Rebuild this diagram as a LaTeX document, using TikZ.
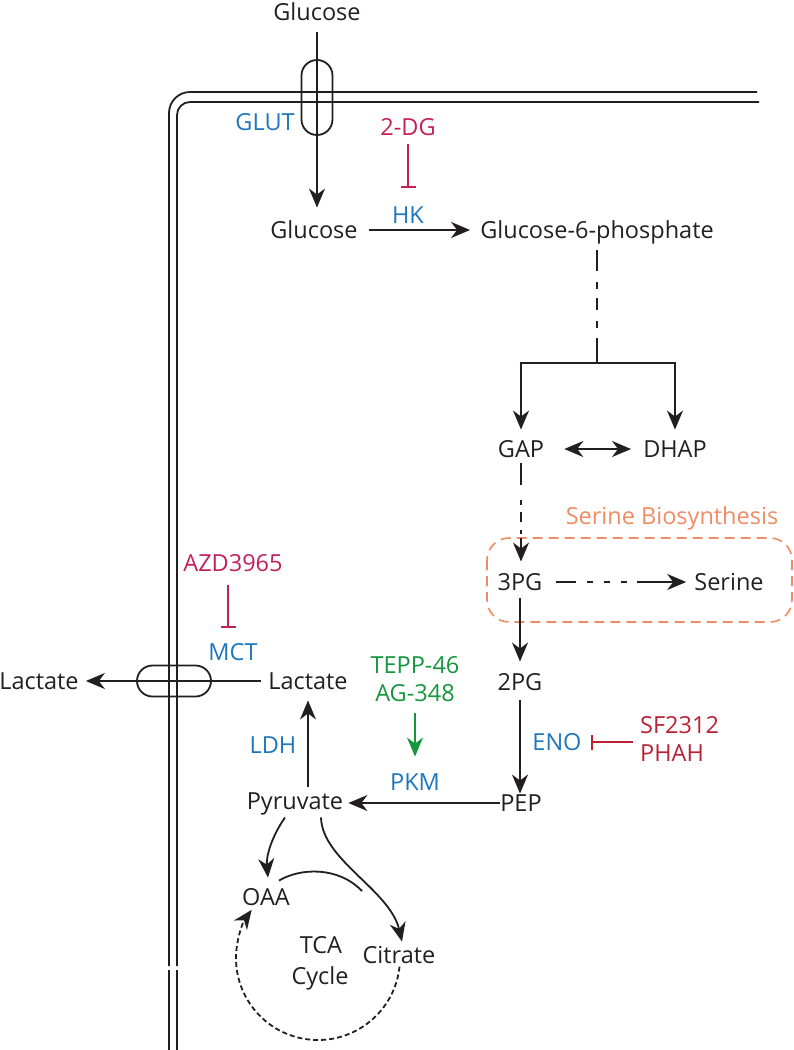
\documentclass[tikz,border=0pt]{standalone}
\usepackage{fontspec}
\setmainfont{Open Sans}
\usetikzlibrary{arrows.meta,calc}
\definecolor{ink}{RGB}{35,31,32}
\definecolor{enz}{RGB}{30,118,188}
\definecolor{inhA}{RGB}{196,32,88}
\definecolor{inhB}{RGB}{184,34,52}
\definecolor{actc}{RGB}{22,150,62}
\definecolor{serc}{RGB}{240,140,100}
\begin{document}
\begin{tikzpicture}[x=1pt,y=-1pt,
  every node/.style={font=\fontsize{23.5}{28}\selectfont, inner sep=0pt, text height=16.5pt, text depth=0pt, text=ink},
  enzyme/.style={text=enz},
  inhibA/.style={text=inhA},
  inhibB/.style={text=inhB},
  activ/.style={text=actc},
  tip/.style={-{Stealth[length=19pt,width=16pt,inset=6pt]}},
  arr/.style={draw=ink, line width=1.8pt, tip},
  darr/.style={draw=ink, line width=1.8pt, {Stealth[length=19pt,width=16pt,inset=6pt]}-{Stealth[length=19pt,width=16pt,inset=6pt]}},
  plain/.style={draw=ink, line width=1.8pt},
  inhline/.style={line width=1.8pt, -{Bar[width=15pt]}},
  actarr/.style={draw=actc, line width=1.8pt, tip},
  memb/.style={draw=ink, line width=1.8pt},
  transp/.style={draw=ink, line width=1.8pt, fill=none},
  dashdotA/.style={dash pattern=on 21pt off 11pt on 7pt off 9pt on 12pt off 11pt on 7pt off 10pt on 40pt},
  dashdotB/.style={dash pattern=on 22pt off 15pt on 5pt off 7pt on 10pt off 8pt on 4pt off 5pt on 40pt},
  serdash/.style={dash pattern=on 20pt off 11pt on 6pt off 11pt on 6pt off 11pt on 6pt off 10pt on 80pt},
  serbox/.style={draw=serc, line width=1.6pt, dash pattern=on 10pt off 6pt, rounded corners=22pt}
]
\useasboundingbox (0,0) rectangle (793,1050);

% membrane
\draw[memb, rounded corners=21pt] (169,966) |- (757,92);
\draw[memb, rounded corners=13pt] (177,966) |- (759,102);
\draw[memb] (169,970) -- (169,1050);
\draw[memb] (177,970) -- (177,1050);

% nodes
\node (glcout) at (317,12) {Glucose};
\node[enzyme] (glut) at (265,122) {GLUT};
\node[inhibA] (dg) at (408,127) {2-DG};
\node[enzyme] (hk) at (408,215) {HK};
\node (glcin) at (314,230) {Glucose};
\node (g6p) at (597,230) {Glucose-6-phosphate};
\node (gap) at (521,449) {GAP};
\node (dhap) at (675,449) {DHAP};
\node[text=serc] (serlab) at (672,516) {Serine Biosynthesis};
\node (pg3) at (520,582) {3PG};
\node (ser) at (729,582) {Serine};
\node (pg2) at (520,682) {2PG};
\node[enzyme] (eno) at (557,742) {ENO};
\node[inhibB, anchor=west] (sf) at (640,725) {SF2312};
\node[inhibB, anchor=west] (phah) at (640,753) {PHAH};
\node (pep) at (521,803) {PEP};
\node[activ] (tepp) at (415,665) {TEPP-46};
\node[activ] (ag) at (415,693) {AG-348};
\node[enzyme] (pkm) at (415,782) {PKM};
\node (pyr) at (295,801) {Pyruvate};
\node[enzyme] (ldh) at (273,745) {LDH};
\node (lacin) at (308,681) {Lactate};
\node (lacout) at (39,681) {Lactate};
\node[inhibA] (azd) at (233,563) {AZD3965};
\node[enzyme] (mct) at (233,652) {MCT};
\node (oaa) at (266,897) {OAA};
\node (tca) at (321,945) {TCA};
\node (cyc) at (320,976) {Cycle};
\node (cit) at (399,955) {Citrate};

% transporters
\node[transp, rounded corners=15.5pt, minimum width=31pt, minimum height=75pt, text height=, text depth=] (glutt) at (317,97.5) {};
\node[transp, rounded corners=15.5pt, minimum width=74pt, minimum height=31pt, text height=, text depth=] (mctt) at (174,681) {};

% serine box
\draw[serbox] (487,538) rectangle (792,622);

% glucose uptake
\draw[arr, shorten <=12pt, shorten >=14pt] (glcout.south) -- (glcout.south |- glcin.north);
\draw[arr, shorten <=11pt, shorten >=10pt] (glcin.east) -- (g6p.west);
\draw[inhline, draw=inhA, shorten <=9pt, shorten >=19pt] (dg.south) -- (hk.north);

% G6P to triose
\coordinate (br) at (597,363);
\draw[plain, dashdotA, shorten <=12pt] (g6p.south) -- (br);
\draw[arr, shorten >=11pt] (br) -| (gap.north);
\draw[arr, shorten >=11pt] (br) -| (dhap.north);
\draw[darr, shorten <=20pt, shorten >=12pt] (gap.east) -- (dhap.west);

% GAP to 3PG
\coordinate (gs) at (521,538);
\draw[plain, dashdotB, shorten <=6pt] (gap.south) -- (gs);
\draw[arr, shorten >=12pt] (gs) -- (pg3.north -| gs);

% serine branch
\draw[arr, serdash, shorten <=13pt, shorten >=8pt] (pg3.east) -- (ser.west);

% lower glycolysis
\draw[arr, shorten <=8pt, shorten >=12pt] (pg3.south) -- (pg2.north);
\draw[arr, shorten <=10pt, shorten >=1pt] (pg2.south) -- (pg2.south |- pep.north);
\draw[inhline, draw=inhB, shorten >=9pt] ([xshift=-7pt]sf.west |- eno.east) -- (eno.east);
\draw[arr, shorten >=5pt] (pep.west) -- (pep.west -| pyr.east);
\draw[actarr, shorten <=12pt, shorten >=17pt] (ag.south) -- (pkm.north);

% lactate
\draw[arr, shorten <=6pt, shorten >=11pt] (lacin.south |- pyr.north) -- (lacin.south);
\draw[arr, shorten <=7pt, shorten >=7pt] (lacin.west) -- (lacout.east);
\draw[inhline, draw=inhA, shorten <=14pt, shorten >=16pt] ([xshift=-5pt]azd.south) -- ([xshift=-5pt]mct.north);

% TCA
\coordinate (p1) at ($(pyr.south)+(-10,8)$);
\coordinate (p2) at ($(pyr.south)+(26,8)$);
\coordinate (oin) at ($(oaa.north)+(2,-11)$);
\coordinate (citin) at ($(cit.north)+(3,-5)$);
\draw[arr] (p1) .. controls (272,836) and (266,856) .. (oin);
\draw[arr] (p2) .. controls (322,860) and (390,890) .. (citin);
\draw[plain] ($(oaa.north east)+(-11,-8)$) .. controls (300,868) and (338,866) .. (362,891);
\coordinate (tc) at (318,958);
\draw[arr, dash pattern=on 5pt off 3pt] ($(tc)+(-6:82pt)$) arc[start angle=-6, end angle=-216, radius=82pt];
\end{tikzpicture}
\end{document}
